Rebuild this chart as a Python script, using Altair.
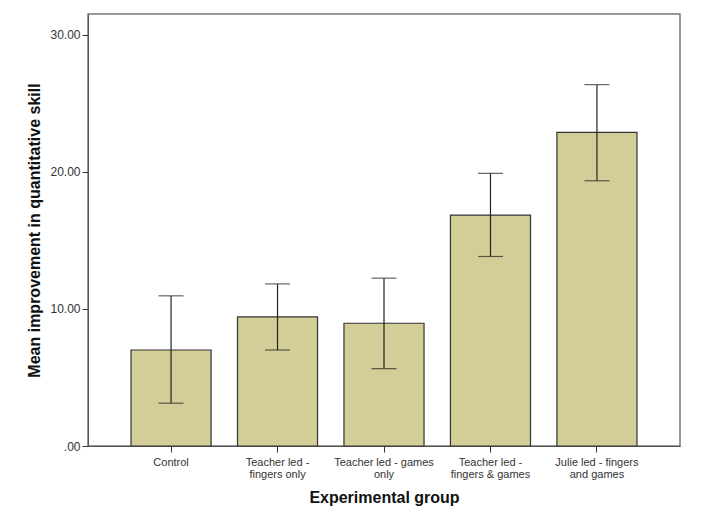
import altair as alt
import pandas as pd

groups = ["Control", "Teacher led - fingers only", "Teacher led - games only",
          "Teacher led - fingers & games", "Julie led - fingers and games"]
tick_labels = ["Control", "Teacher led -\nfingers only", "Teacher led - games\nonly",
               "Teacher led -\nfingers & games", "Julie led - fingers\nand games"]
means = [7.0, 9.42, 8.95, 16.84, 22.87]
lower = [3.12, 7.0, 5.64, 13.82, 19.34]
upper = [10.95, 11.82, 12.24, 19.88, 26.35]

df = pd.DataFrame({"group": tick_labels, "mean": means, "lower": lower, "upper": upper})

font = "Liberation Sans"

x = alt.X("group:N", sort=tick_labels,
          scale=alt.Scale(paddingInner=0.248, paddingOuter=0.404),
          axis=alt.Axis(title="Experimental group", labelAngle=0,
                        labelExpr="split(datum.label, '\\n')",
                        labelFont=font, labelFontSize=11, labelColor="#333333",
                        labelLineHeight=12, labelPadding=4,
                        tickSize=6, tickColor="#333333", domainColor="#555555",
                        titleFont=font, titleFontSize=16, titleFontWeight="bold",
                        titleColor="#111111", titleY=43, titleBaseline="top"))

y_axis = alt.Axis(title="Mean improvement in quantitative skill",
                  values=[0, 10, 20, 30], grid=False,
                  labelExpr="datum.value == 0 ? '.00' : format(datum.value, '.2f')",
                  labelFont=font, labelFontSize=12, labelColor="#333333", labelPadding=2,
                  tickSize=6, tickColor="#333333", domainColor="#555555",
                  titleFont=font, titleFontSize=16, titleFontWeight="bold",
                  titleColor="#111111", titleAngle=-90, titleX=-54, titleY=216,
                  titleAlign="center", titleBaseline="middle")

yscale = alt.Scale(domain=[0, 31.5], nice=False, zero=True)

bars = alt.Chart(df).mark_bar(color="#d3ce97", stroke="#333333", strokeWidth=1.2).encode(
    x=x,
    y=alt.Y("mean:Q", scale=yscale, axis=y_axis),
)

rules = alt.Chart(df).mark_rule(color="#222222", strokeWidth=1.2).encode(
    x=alt.X("group:N", sort=tick_labels),
    y=alt.Y("lower:Q", scale=yscale),
    y2="upper:Q",
)

caps_hi = alt.Chart(df).mark_tick(color="#222222", size=25, thickness=1.2).encode(
    x=alt.X("group:N", sort=tick_labels),
    y=alt.Y("upper:Q", scale=yscale),
)
caps_lo = alt.Chart(df).mark_tick(color="#222222", size=25, thickness=1.2).encode(
    x=alt.X("group:N", sort=tick_labels),
    y=alt.Y("lower:Q", scale=yscale),
)

chart = alt.layer(bars, rules, caps_hi, caps_lo).properties(
    width=592, height=432,
    autosize=alt.AutoSizeParams(type="none"),
    padding={"left": 80, "top": 6, "right": 20, "bottom": 60},
    background="white",
).configure_view(stroke="#777777", strokeWidth=1.5)

chart.save("out.html", embed_options={"renderer": "svg", "actions": False})
